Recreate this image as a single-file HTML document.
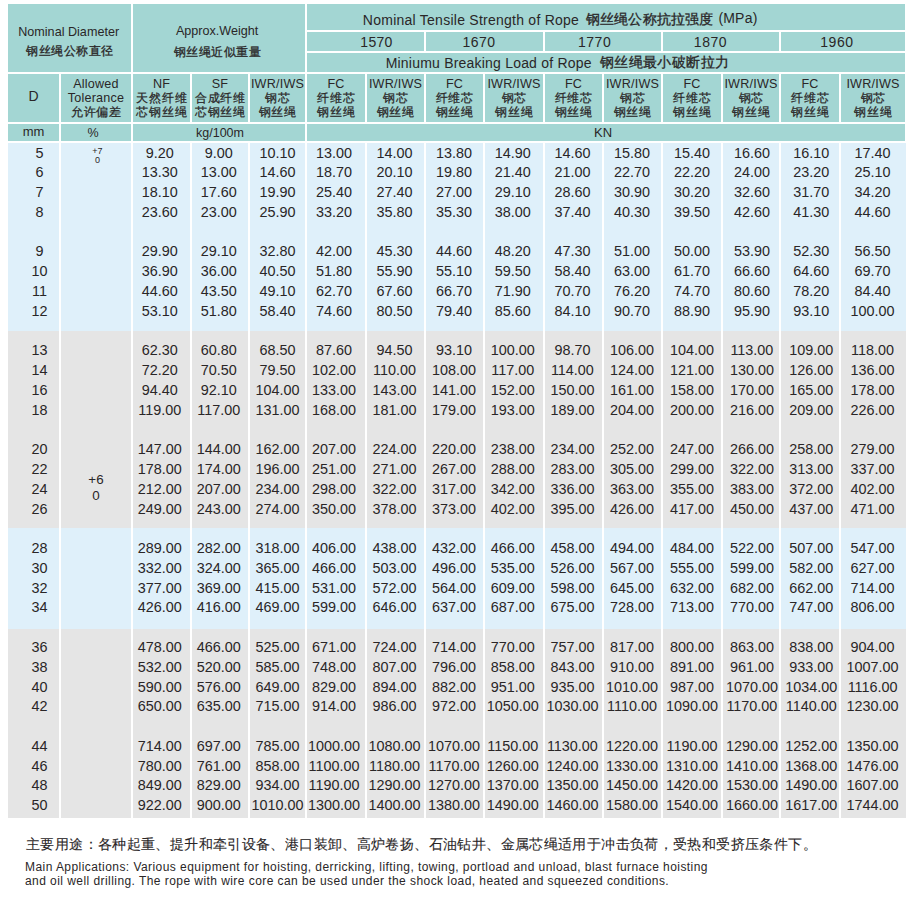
<!DOCTYPE html>
<html><head><meta charset="utf-8">
<style>
html,body{margin:0;padding:0;background:#fff;}
body{width:916px;height:905px;position:relative;overflow:hidden;font-family:"Liberation Sans",sans-serif;color:#2a2627;}
.c{position:absolute;}
.t{position:absolute;white-space:nowrap;line-height:18px;}
.k{-webkit-text-stroke:0.2px currentColor;}
.d{position:absolute;height:20px;line-height:20px;text-align:center;font-size:14.4px;white-space:nowrap;}
.h{position:absolute;text-align:center;white-space:nowrap;}
</style></head><body>
<div class="c" style="left:8px;top:4px;width:123px;height:68px;background:#a3d6d3"></div>
<div class="c" style="left:133px;top:4px;width:172px;height:68px;background:#a3d6d3"></div>
<div class="c" style="left:307px;top:4px;width:598px;height:26px;background:#a3d6d3"></div>
<div class="c" style="left:307px;top:32px;width:117px;height:19px;background:#a3d6d3"></div>
<div class="c" style="left:426px;top:32px;width:117px;height:19px;background:#a3d6d3"></div>
<div class="c" style="left:545px;top:32px;width:116px;height:19px;background:#a3d6d3"></div>
<div class="c" style="left:663px;top:32px;width:116px;height:19px;background:#a3d6d3"></div>
<div class="c" style="left:781px;top:32px;width:124px;height:19px;background:#a3d6d3"></div>
<div class="c" style="left:307px;top:53px;width:598px;height:19px;background:#a3d6d3"></div>
<div class="c" style="left:8px;top:74px;width:51px;height:48px;background:#a3d6d3"></div>
<div class="c" style="left:61px;top:74px;width:70px;height:48px;background:#a3d6d3"></div>
<div class="c" style="left:133px;top:74px;width:57px;height:48px;background:#a3d6d3"></div>
<div class="c" style="left:192px;top:74px;width:56px;height:48px;background:#a3d6d3"></div>
<div class="c" style="left:250px;top:74px;width:55px;height:48px;background:#a3d6d3"></div>
<div class="c" style="left:307px;top:74px;width:58px;height:48px;background:#a3d6d3"></div>
<div class="c" style="left:367px;top:74px;width:57px;height:48px;background:#a3d6d3"></div>
<div class="c" style="left:426px;top:74px;width:57px;height:48px;background:#a3d6d3"></div>
<div class="c" style="left:485px;top:74px;width:58px;height:48px;background:#a3d6d3"></div>
<div class="c" style="left:545px;top:74px;width:57px;height:48px;background:#a3d6d3"></div>
<div class="c" style="left:604px;top:74px;width:57px;height:48px;background:#a3d6d3"></div>
<div class="c" style="left:663px;top:74px;width:58px;height:48px;background:#a3d6d3"></div>
<div class="c" style="left:723px;top:74px;width:56px;height:48px;background:#a3d6d3"></div>
<div class="c" style="left:781px;top:74px;width:58px;height:48px;background:#a3d6d3"></div>
<div class="c" style="left:841px;top:74px;width:64px;height:48px;background:#a3d6d3"></div>
<div class="c" style="left:8px;top:124px;width:51px;height:17px;background:#a3d6d3"></div>
<div class="c" style="left:61px;top:124px;width:70px;height:17px;background:#a3d6d3"></div>
<div class="c" style="left:133px;top:124px;width:172px;height:17px;background:#a3d6d3"></div>
<div class="c" style="left:307px;top:124px;width:598px;height:17px;background:#a3d6d3"></div>
<div class="c" style="left:8px;top:143px;width:51px;height:187.5px;background:#dff0fa"></div>
<div class="c" style="left:61px;top:143px;width:70px;height:187.5px;background:#dff0fa"></div>
<div class="c" style="left:133px;top:143px;width:57px;height:187.5px;background:#dff0fa"></div>
<div class="c" style="left:192px;top:143px;width:56px;height:187.5px;background:#dff0fa"></div>
<div class="c" style="left:250px;top:143px;width:55px;height:187.5px;background:#dff0fa"></div>
<div class="c" style="left:307px;top:143px;width:58px;height:187.5px;background:#dff0fa"></div>
<div class="c" style="left:367px;top:143px;width:57px;height:187.5px;background:#dff0fa"></div>
<div class="c" style="left:426px;top:143px;width:57px;height:187.5px;background:#dff0fa"></div>
<div class="c" style="left:485px;top:143px;width:58px;height:187.5px;background:#dff0fa"></div>
<div class="c" style="left:545px;top:143px;width:57px;height:187.5px;background:#dff0fa"></div>
<div class="c" style="left:604px;top:143px;width:57px;height:187.5px;background:#dff0fa"></div>
<div class="c" style="left:663px;top:143px;width:58px;height:187.5px;background:#dff0fa"></div>
<div class="c" style="left:723px;top:143px;width:56px;height:187.5px;background:#dff0fa"></div>
<div class="c" style="left:781px;top:143px;width:58px;height:187.5px;background:#dff0fa"></div>
<div class="c" style="left:841px;top:143px;width:65px;height:187.5px;background:#dff0fa"></div>
<div class="c" style="left:8px;top:330.5px;width:51px;height:197.0px;background:#e5e5e5"></div>
<div class="c" style="left:61px;top:330.5px;width:70px;height:197.0px;background:#e5e5e5"></div>
<div class="c" style="left:133px;top:330.5px;width:57px;height:197.0px;background:#e5e5e5"></div>
<div class="c" style="left:192px;top:330.5px;width:56px;height:197.0px;background:#e5e5e5"></div>
<div class="c" style="left:250px;top:330.5px;width:55px;height:197.0px;background:#e5e5e5"></div>
<div class="c" style="left:307px;top:330.5px;width:58px;height:197.0px;background:#e5e5e5"></div>
<div class="c" style="left:367px;top:330.5px;width:57px;height:197.0px;background:#e5e5e5"></div>
<div class="c" style="left:426px;top:330.5px;width:57px;height:197.0px;background:#e5e5e5"></div>
<div class="c" style="left:485px;top:330.5px;width:58px;height:197.0px;background:#e5e5e5"></div>
<div class="c" style="left:545px;top:330.5px;width:57px;height:197.0px;background:#e5e5e5"></div>
<div class="c" style="left:604px;top:330.5px;width:57px;height:197.0px;background:#e5e5e5"></div>
<div class="c" style="left:663px;top:330.5px;width:58px;height:197.0px;background:#e5e5e5"></div>
<div class="c" style="left:723px;top:330.5px;width:56px;height:197.0px;background:#e5e5e5"></div>
<div class="c" style="left:781px;top:330.5px;width:58px;height:197.0px;background:#e5e5e5"></div>
<div class="c" style="left:841px;top:330.5px;width:65px;height:197.0px;background:#e5e5e5"></div>
<div class="c" style="left:8px;top:527.5px;width:51px;height:101.5px;background:#dff0fa"></div>
<div class="c" style="left:61px;top:527.5px;width:70px;height:101.5px;background:#dff0fa"></div>
<div class="c" style="left:133px;top:527.5px;width:57px;height:101.5px;background:#dff0fa"></div>
<div class="c" style="left:192px;top:527.5px;width:56px;height:101.5px;background:#dff0fa"></div>
<div class="c" style="left:250px;top:527.5px;width:55px;height:101.5px;background:#dff0fa"></div>
<div class="c" style="left:307px;top:527.5px;width:58px;height:101.5px;background:#dff0fa"></div>
<div class="c" style="left:367px;top:527.5px;width:57px;height:101.5px;background:#dff0fa"></div>
<div class="c" style="left:426px;top:527.5px;width:57px;height:101.5px;background:#dff0fa"></div>
<div class="c" style="left:485px;top:527.5px;width:58px;height:101.5px;background:#dff0fa"></div>
<div class="c" style="left:545px;top:527.5px;width:57px;height:101.5px;background:#dff0fa"></div>
<div class="c" style="left:604px;top:527.5px;width:57px;height:101.5px;background:#dff0fa"></div>
<div class="c" style="left:663px;top:527.5px;width:58px;height:101.5px;background:#dff0fa"></div>
<div class="c" style="left:723px;top:527.5px;width:56px;height:101.5px;background:#dff0fa"></div>
<div class="c" style="left:781px;top:527.5px;width:58px;height:101.5px;background:#dff0fa"></div>
<div class="c" style="left:841px;top:527.5px;width:65px;height:101.5px;background:#dff0fa"></div>
<div class="c" style="left:8px;top:629px;width:51px;height:189px;background:#e5e5e5"></div>
<div class="c" style="left:61px;top:629px;width:70px;height:189px;background:#e5e5e5"></div>
<div class="c" style="left:133px;top:629px;width:57px;height:189px;background:#e5e5e5"></div>
<div class="c" style="left:192px;top:629px;width:56px;height:189px;background:#e5e5e5"></div>
<div class="c" style="left:250px;top:629px;width:55px;height:189px;background:#e5e5e5"></div>
<div class="c" style="left:307px;top:629px;width:58px;height:189px;background:#e5e5e5"></div>
<div class="c" style="left:367px;top:629px;width:57px;height:189px;background:#e5e5e5"></div>
<div class="c" style="left:426px;top:629px;width:57px;height:189px;background:#e5e5e5"></div>
<div class="c" style="left:485px;top:629px;width:58px;height:189px;background:#e5e5e5"></div>
<div class="c" style="left:545px;top:629px;width:57px;height:189px;background:#e5e5e5"></div>
<div class="c" style="left:604px;top:629px;width:57px;height:189px;background:#e5e5e5"></div>
<div class="c" style="left:663px;top:629px;width:58px;height:189px;background:#e5e5e5"></div>
<div class="c" style="left:723px;top:629px;width:56px;height:189px;background:#e5e5e5"></div>
<div class="c" style="left:781px;top:629px;width:58px;height:189px;background:#e5e5e5"></div>
<div class="c" style="left:841px;top:629px;width:65px;height:189px;background:#e5e5e5"></div>
<div class="t" style="left:18.20px;top:22.50px;font-size:12.60px;letter-spacing:0.010px;">Nominal Diameter</div>
<div class="t" style="left:26.00px;top:42.40px;font-size:12.00px;letter-spacing:0.583px;-webkit-text-stroke:0.3px currentColor;">钢丝绳公称直径</div>
<div class="t" style="left:175.90px;top:22.20px;font-size:12.60px;letter-spacing:0.008px;">Approx.Weight</div>
<div class="t" style="left:173.50px;top:43.30px;font-size:12.00px;letter-spacing:0.550px;-webkit-text-stroke:0.3px currentColor;">钢丝绳近似重量</div>
<div class="t" style="left:362.85px;top:10.60px;font-size:14.00px;letter-spacing:0.250px;">Nominal Tensile Strength of Rope</div>
<div class="t" style="left:585.70px;top:10.30px;font-size:14.00px;letter-spacing:0.212px;-webkit-text-stroke:0.3px currentColor;">钢丝绳公称抗拉强度</div>
<div class="t" style="left:718.40px;top:9.20px;font-size:14.00px;letter-spacing:0.200px;">(MPa)</div>
<div class="t" style="left:360.30px;top:32.70px;font-size:14.00px;letter-spacing:0.300px;">1570</div>
<div class="t" style="left:462.60px;top:32.70px;font-size:14.00px;letter-spacing:0.433px;">1670</div>
<div class="t" style="left:577.90px;top:32.70px;font-size:14.00px;letter-spacing:0.567px;">1770</div>
<div class="t" style="left:693.80px;top:32.70px;font-size:14.00px;letter-spacing:0.567px;">1870</div>
<div class="t" style="left:820.20px;top:32.70px;font-size:14.00px;letter-spacing:0.600px;">1960</div>
<div class="t" style="left:385.70px;top:53.50px;font-size:14.00px;letter-spacing:0.207px;">Miniumu Breaking Load of Rope</div>
<div class="t" style="left:599.90px;top:52.70px;font-size:14.00px;letter-spacing:0.388px;-webkit-text-stroke:0.3px currentColor;">钢丝绳最小破断拉力</div>
<div class="h" style="left:61px;top:77.0px;width:70px;font-size:12.6px;line-height:14.3px"><span style="letter-spacing:0.2px">Allowed</span><br><span style="letter-spacing:0.2px">Tolerance</span><br><span class="k" style="-webkit-text-stroke:0.25px currentColor;font-size:11.5px;letter-spacing:0.9px;padding-left:0.9px;position:relative;top:-0.8px">允许偏差</span></div>
<div class="h" style="left:133px;top:77.0px;width:57px;font-size:12.6px;line-height:14.3px"><span style="letter-spacing:0.2px">NF</span><br><span class="k" style="-webkit-text-stroke:0.25px currentColor;font-size:11.5px;letter-spacing:0.9px;padding-left:0.9px;position:relative;top:-0.8px">天然纤维</span><br><span class="k" style="-webkit-text-stroke:0.25px currentColor;font-size:11.5px;letter-spacing:0.9px;padding-left:0.9px;position:relative;top:-0.8px">芯钢丝绳</span></div>
<div class="h" style="left:192px;top:77.0px;width:56px;font-size:12.6px;line-height:14.3px"><span style="letter-spacing:0.2px">SF</span><br><span class="k" style="-webkit-text-stroke:0.25px currentColor;font-size:11.5px;letter-spacing:0.9px;padding-left:0.9px;position:relative;top:-0.8px">合成纤维</span><br><span class="k" style="-webkit-text-stroke:0.25px currentColor;font-size:11.5px;letter-spacing:0.9px;padding-left:0.9px;position:relative;top:-0.8px">芯钢丝绳</span></div>
<div class="h" style="left:250px;top:77.0px;width:55px;font-size:12.6px;line-height:14.3px"><span style="letter-spacing:0.2px">IWR/IWS</span><br><span class="k" style="-webkit-text-stroke:0.25px currentColor;font-size:11.5px;letter-spacing:0.9px;padding-left:0.9px;position:relative;top:-0.8px">钢芯</span><br><span class="k" style="-webkit-text-stroke:0.25px currentColor;font-size:11.5px;letter-spacing:0.9px;padding-left:0.9px;position:relative;top:-0.8px">钢丝绳</span></div>
<div class="h" style="left:307px;top:77.0px;width:58px;font-size:12.6px;line-height:14.3px"><span style="letter-spacing:0.2px">FC</span><br><span class="k" style="-webkit-text-stroke:0.25px currentColor;font-size:11.5px;letter-spacing:0.9px;padding-left:0.9px;position:relative;top:-0.8px">纤维芯</span><br><span class="k" style="-webkit-text-stroke:0.25px currentColor;font-size:11.5px;letter-spacing:0.9px;padding-left:0.9px;position:relative;top:-0.8px">钢丝绳</span></div>
<div class="h" style="left:367px;top:77.0px;width:57px;font-size:12.6px;line-height:14.3px"><span style="letter-spacing:0.2px">IWR/IWS</span><br><span class="k" style="-webkit-text-stroke:0.25px currentColor;font-size:11.5px;letter-spacing:0.9px;padding-left:0.9px;position:relative;top:-0.8px">钢芯</span><br><span class="k" style="-webkit-text-stroke:0.25px currentColor;font-size:11.5px;letter-spacing:0.9px;padding-left:0.9px;position:relative;top:-0.8px">钢丝绳</span></div>
<div class="h" style="left:426px;top:77.0px;width:57px;font-size:12.6px;line-height:14.3px"><span style="letter-spacing:0.2px">FC</span><br><span class="k" style="-webkit-text-stroke:0.25px currentColor;font-size:11.5px;letter-spacing:0.9px;padding-left:0.9px;position:relative;top:-0.8px">纤维芯</span><br><span class="k" style="-webkit-text-stroke:0.25px currentColor;font-size:11.5px;letter-spacing:0.9px;padding-left:0.9px;position:relative;top:-0.8px">钢丝绳</span></div>
<div class="h" style="left:485px;top:77.0px;width:58px;font-size:12.6px;line-height:14.3px"><span style="letter-spacing:0.2px">IWR/IWS</span><br><span class="k" style="-webkit-text-stroke:0.25px currentColor;font-size:11.5px;letter-spacing:0.9px;padding-left:0.9px;position:relative;top:-0.8px">钢芯</span><br><span class="k" style="-webkit-text-stroke:0.25px currentColor;font-size:11.5px;letter-spacing:0.9px;padding-left:0.9px;position:relative;top:-0.8px">钢丝绳</span></div>
<div class="h" style="left:545px;top:77.0px;width:57px;font-size:12.6px;line-height:14.3px"><span style="letter-spacing:0.2px">FC</span><br><span class="k" style="-webkit-text-stroke:0.25px currentColor;font-size:11.5px;letter-spacing:0.9px;padding-left:0.9px;position:relative;top:-0.8px">纤维芯</span><br><span class="k" style="-webkit-text-stroke:0.25px currentColor;font-size:11.5px;letter-spacing:0.9px;padding-left:0.9px;position:relative;top:-0.8px">钢丝绳</span></div>
<div class="h" style="left:604px;top:77.0px;width:57px;font-size:12.6px;line-height:14.3px"><span style="letter-spacing:0.2px">IWR/IWS</span><br><span class="k" style="-webkit-text-stroke:0.25px currentColor;font-size:11.5px;letter-spacing:0.9px;padding-left:0.9px;position:relative;top:-0.8px">钢芯</span><br><span class="k" style="-webkit-text-stroke:0.25px currentColor;font-size:11.5px;letter-spacing:0.9px;padding-left:0.9px;position:relative;top:-0.8px">钢丝绳</span></div>
<div class="h" style="left:663px;top:77.0px;width:58px;font-size:12.6px;line-height:14.3px"><span style="letter-spacing:0.2px">FC</span><br><span class="k" style="-webkit-text-stroke:0.25px currentColor;font-size:11.5px;letter-spacing:0.9px;padding-left:0.9px;position:relative;top:-0.8px">纤维芯</span><br><span class="k" style="-webkit-text-stroke:0.25px currentColor;font-size:11.5px;letter-spacing:0.9px;padding-left:0.9px;position:relative;top:-0.8px">钢丝绳</span></div>
<div class="h" style="left:723px;top:77.0px;width:56px;font-size:12.6px;line-height:14.3px"><span style="letter-spacing:0.2px">IWR/IWS</span><br><span class="k" style="-webkit-text-stroke:0.25px currentColor;font-size:11.5px;letter-spacing:0.9px;padding-left:0.9px;position:relative;top:-0.8px">钢芯</span><br><span class="k" style="-webkit-text-stroke:0.25px currentColor;font-size:11.5px;letter-spacing:0.9px;padding-left:0.9px;position:relative;top:-0.8px">钢丝绳</span></div>
<div class="h" style="left:781px;top:77.0px;width:58px;font-size:12.6px;line-height:14.3px"><span style="letter-spacing:0.2px">FC</span><br><span class="k" style="-webkit-text-stroke:0.25px currentColor;font-size:11.5px;letter-spacing:0.9px;padding-left:0.9px;position:relative;top:-0.8px">纤维芯</span><br><span class="k" style="-webkit-text-stroke:0.25px currentColor;font-size:11.5px;letter-spacing:0.9px;padding-left:0.9px;position:relative;top:-0.8px">钢丝绳</span></div>
<div class="h" style="left:841px;top:77.0px;width:64px;font-size:12.6px;line-height:14.3px"><span style="letter-spacing:0.2px">IWR/IWS</span><br><span class="k" style="-webkit-text-stroke:0.25px currentColor;font-size:11.5px;letter-spacing:0.9px;padding-left:0.9px;position:relative;top:-0.8px">钢芯</span><br><span class="k" style="-webkit-text-stroke:0.25px currentColor;font-size:11.5px;letter-spacing:0.9px;padding-left:0.9px;position:relative;top:-0.8px">钢丝绳</span></div>
<div class="h" style="left:8px;top:86.7px;width:51px;font-size:14px;line-height:18px">D</div>
<div class="h" style="left:8px;top:124px;width:51px;font-size:13px;line-height:16px">mm</div>
<div class="t" style="left:87.5px;top:124.5px;font-size:12.5px;line-height:16px">%</div>
<div class="t" style="left:196px;top:124.5px;font-size:12.5px;line-height:16px">kg/100m</div>
<div class="t" style="left:594px;top:125px;font-size:13px;line-height:16px">KN</div>
<div class="h" style="left:61px;top:147px;width:70px;font-size:9px;line-height:9.1px;padding-left:1.5px">+7<br>0</div>
<div class="h" style="left:61px;top:472px;width:70px;font-size:13.4px;line-height:16.1px">+6<br>0</div>
<div class="d" style="left:14px;top:142.50px;width:51px">5</div>
<div class="d" style="left:131.2px;top:142.50px;width:57px">9.20</div>
<div class="d" style="left:190.7px;top:142.50px;width:56px">9.00</div>
<div class="d" style="left:249.9px;top:142.50px;width:55px">10.10</div>
<div class="d" style="left:305.1px;top:142.50px;width:58px">13.00</div>
<div class="d" style="left:366.1px;top:142.50px;width:57px">14.00</div>
<div class="d" style="left:425.5px;top:142.50px;width:57px">13.80</div>
<div class="d" style="left:483.8px;top:142.50px;width:58px">14.90</div>
<div class="d" style="left:543.9px;top:142.50px;width:57px">14.60</div>
<div class="d" style="left:603.55px;top:142.50px;width:57px">15.80</div>
<div class="d" style="left:663px;top:142.50px;width:58px">15.40</div>
<div class="d" style="left:723.9px;top:142.50px;width:56px">16.60</div>
<div class="d" style="left:782.3px;top:142.50px;width:58px">16.10</div>
<div class="d" style="left:840.6px;top:142.50px;width:64px">17.40</div>
<div class="d" style="left:14px;top:162.28px;width:51px">6</div>
<div class="d" style="left:131.2px;top:162.28px;width:57px">13.30</div>
<div class="d" style="left:190.7px;top:162.28px;width:56px">13.00</div>
<div class="d" style="left:249.9px;top:162.28px;width:55px">14.60</div>
<div class="d" style="left:305.1px;top:162.28px;width:58px">18.70</div>
<div class="d" style="left:366.1px;top:162.28px;width:57px">20.10</div>
<div class="d" style="left:425.5px;top:162.28px;width:57px">19.80</div>
<div class="d" style="left:483.8px;top:162.28px;width:58px">21.40</div>
<div class="d" style="left:543.9px;top:162.28px;width:57px">21.00</div>
<div class="d" style="left:603.55px;top:162.28px;width:57px">22.70</div>
<div class="d" style="left:663px;top:162.28px;width:58px">22.20</div>
<div class="d" style="left:723.9px;top:162.28px;width:56px">24.00</div>
<div class="d" style="left:782.3px;top:162.28px;width:58px">23.20</div>
<div class="d" style="left:840.6px;top:162.28px;width:64px">25.10</div>
<div class="d" style="left:14px;top:182.06px;width:51px">7</div>
<div class="d" style="left:131.2px;top:182.06px;width:57px">18.10</div>
<div class="d" style="left:190.7px;top:182.06px;width:56px">17.60</div>
<div class="d" style="left:249.9px;top:182.06px;width:55px">19.90</div>
<div class="d" style="left:305.1px;top:182.06px;width:58px">25.40</div>
<div class="d" style="left:366.1px;top:182.06px;width:57px">27.40</div>
<div class="d" style="left:425.5px;top:182.06px;width:57px">27.00</div>
<div class="d" style="left:483.8px;top:182.06px;width:58px">29.10</div>
<div class="d" style="left:543.9px;top:182.06px;width:57px">28.60</div>
<div class="d" style="left:603.55px;top:182.06px;width:57px">30.90</div>
<div class="d" style="left:663px;top:182.06px;width:58px">30.20</div>
<div class="d" style="left:723.9px;top:182.06px;width:56px">32.60</div>
<div class="d" style="left:782.3px;top:182.06px;width:58px">31.70</div>
<div class="d" style="left:840.6px;top:182.06px;width:64px">34.20</div>
<div class="d" style="left:14px;top:201.84px;width:51px">8</div>
<div class="d" style="left:131.2px;top:201.84px;width:57px">23.60</div>
<div class="d" style="left:190.7px;top:201.84px;width:56px">23.00</div>
<div class="d" style="left:249.9px;top:201.84px;width:55px">25.90</div>
<div class="d" style="left:305.1px;top:201.84px;width:58px">33.20</div>
<div class="d" style="left:366.1px;top:201.84px;width:57px">35.80</div>
<div class="d" style="left:425.5px;top:201.84px;width:57px">35.30</div>
<div class="d" style="left:483.8px;top:201.84px;width:58px">38.00</div>
<div class="d" style="left:543.9px;top:201.84px;width:57px">37.40</div>
<div class="d" style="left:603.55px;top:201.84px;width:57px">40.30</div>
<div class="d" style="left:663px;top:201.84px;width:58px">39.50</div>
<div class="d" style="left:723.9px;top:201.84px;width:56px">42.60</div>
<div class="d" style="left:782.3px;top:201.84px;width:58px">41.30</div>
<div class="d" style="left:840.6px;top:201.84px;width:64px">44.60</div>
<div class="d" style="left:14px;top:241.40px;width:51px">9</div>
<div class="d" style="left:131.2px;top:241.40px;width:57px">29.90</div>
<div class="d" style="left:190.7px;top:241.40px;width:56px">29.10</div>
<div class="d" style="left:249.9px;top:241.40px;width:55px">32.80</div>
<div class="d" style="left:305.1px;top:241.40px;width:58px">42.00</div>
<div class="d" style="left:366.1px;top:241.40px;width:57px">45.30</div>
<div class="d" style="left:425.5px;top:241.40px;width:57px">44.60</div>
<div class="d" style="left:483.8px;top:241.40px;width:58px">48.20</div>
<div class="d" style="left:543.9px;top:241.40px;width:57px">47.30</div>
<div class="d" style="left:603.55px;top:241.40px;width:57px">51.00</div>
<div class="d" style="left:663px;top:241.40px;width:58px">50.00</div>
<div class="d" style="left:723.9px;top:241.40px;width:56px">53.90</div>
<div class="d" style="left:782.3px;top:241.40px;width:58px">52.30</div>
<div class="d" style="left:840.6px;top:241.40px;width:64px">56.50</div>
<div class="d" style="left:14px;top:261.18px;width:51px">10</div>
<div class="d" style="left:131.2px;top:261.18px;width:57px">36.90</div>
<div class="d" style="left:190.7px;top:261.18px;width:56px">36.00</div>
<div class="d" style="left:249.9px;top:261.18px;width:55px">40.50</div>
<div class="d" style="left:305.1px;top:261.18px;width:58px">51.80</div>
<div class="d" style="left:366.1px;top:261.18px;width:57px">55.90</div>
<div class="d" style="left:425.5px;top:261.18px;width:57px">55.10</div>
<div class="d" style="left:483.8px;top:261.18px;width:58px">59.50</div>
<div class="d" style="left:543.9px;top:261.18px;width:57px">58.40</div>
<div class="d" style="left:603.55px;top:261.18px;width:57px">63.00</div>
<div class="d" style="left:663px;top:261.18px;width:58px">61.70</div>
<div class="d" style="left:723.9px;top:261.18px;width:56px">66.60</div>
<div class="d" style="left:782.3px;top:261.18px;width:58px">64.60</div>
<div class="d" style="left:840.6px;top:261.18px;width:64px">69.70</div>
<div class="d" style="left:14px;top:280.96px;width:51px">11</div>
<div class="d" style="left:131.2px;top:280.96px;width:57px">44.60</div>
<div class="d" style="left:190.7px;top:280.96px;width:56px">43.50</div>
<div class="d" style="left:249.9px;top:280.96px;width:55px">49.10</div>
<div class="d" style="left:305.1px;top:280.96px;width:58px">62.70</div>
<div class="d" style="left:366.1px;top:280.96px;width:57px">67.60</div>
<div class="d" style="left:425.5px;top:280.96px;width:57px">66.70</div>
<div class="d" style="left:483.8px;top:280.96px;width:58px">71.90</div>
<div class="d" style="left:543.9px;top:280.96px;width:57px">70.70</div>
<div class="d" style="left:603.55px;top:280.96px;width:57px">76.20</div>
<div class="d" style="left:663px;top:280.96px;width:58px">74.70</div>
<div class="d" style="left:723.9px;top:280.96px;width:56px">80.60</div>
<div class="d" style="left:782.3px;top:280.96px;width:58px">78.20</div>
<div class="d" style="left:840.6px;top:280.96px;width:64px">84.40</div>
<div class="d" style="left:14px;top:300.74px;width:51px">12</div>
<div class="d" style="left:131.2px;top:300.74px;width:57px">53.10</div>
<div class="d" style="left:190.7px;top:300.74px;width:56px">51.80</div>
<div class="d" style="left:249.9px;top:300.74px;width:55px">58.40</div>
<div class="d" style="left:305.1px;top:300.74px;width:58px">74.60</div>
<div class="d" style="left:366.1px;top:300.74px;width:57px">80.50</div>
<div class="d" style="left:425.5px;top:300.74px;width:57px">79.40</div>
<div class="d" style="left:483.8px;top:300.74px;width:58px">85.60</div>
<div class="d" style="left:543.9px;top:300.74px;width:57px">84.10</div>
<div class="d" style="left:603.55px;top:300.74px;width:57px">90.70</div>
<div class="d" style="left:663px;top:300.74px;width:58px">88.90</div>
<div class="d" style="left:723.9px;top:300.74px;width:56px">95.90</div>
<div class="d" style="left:782.3px;top:300.74px;width:58px">93.10</div>
<div class="d" style="left:840.6px;top:300.74px;width:64px">100.00</div>
<div class="d" style="left:14px;top:340.30px;width:51px">13</div>
<div class="d" style="left:131.2px;top:340.30px;width:57px">62.30</div>
<div class="d" style="left:190.7px;top:340.30px;width:56px">60.80</div>
<div class="d" style="left:249.9px;top:340.30px;width:55px">68.50</div>
<div class="d" style="left:305.1px;top:340.30px;width:58px">87.60</div>
<div class="d" style="left:366.1px;top:340.30px;width:57px">94.50</div>
<div class="d" style="left:425.5px;top:340.30px;width:57px">93.10</div>
<div class="d" style="left:483.8px;top:340.30px;width:58px">100.00</div>
<div class="d" style="left:543.9px;top:340.30px;width:57px">98.70</div>
<div class="d" style="left:603.55px;top:340.30px;width:57px">106.00</div>
<div class="d" style="left:663px;top:340.30px;width:58px">104.00</div>
<div class="d" style="left:723.9px;top:340.30px;width:56px">113.00</div>
<div class="d" style="left:782.3px;top:340.30px;width:58px">109.00</div>
<div class="d" style="left:840.6px;top:340.30px;width:64px">118.00</div>
<div class="d" style="left:14px;top:360.08px;width:51px">14</div>
<div class="d" style="left:131.2px;top:360.08px;width:57px">72.20</div>
<div class="d" style="left:190.7px;top:360.08px;width:56px">70.50</div>
<div class="d" style="left:249.9px;top:360.08px;width:55px">79.50</div>
<div class="d" style="left:305.1px;top:360.08px;width:58px">102.00</div>
<div class="d" style="left:366.1px;top:360.08px;width:57px">110.00</div>
<div class="d" style="left:425.5px;top:360.08px;width:57px">108.00</div>
<div class="d" style="left:483.8px;top:360.08px;width:58px">117.00</div>
<div class="d" style="left:543.9px;top:360.08px;width:57px">114.00</div>
<div class="d" style="left:603.55px;top:360.08px;width:57px">124.00</div>
<div class="d" style="left:663px;top:360.08px;width:58px">121.00</div>
<div class="d" style="left:723.9px;top:360.08px;width:56px">130.00</div>
<div class="d" style="left:782.3px;top:360.08px;width:58px">126.00</div>
<div class="d" style="left:840.6px;top:360.08px;width:64px">136.00</div>
<div class="d" style="left:14px;top:379.86px;width:51px">16</div>
<div class="d" style="left:131.2px;top:379.86px;width:57px">94.40</div>
<div class="d" style="left:190.7px;top:379.86px;width:56px">92.10</div>
<div class="d" style="left:249.9px;top:379.86px;width:55px">104.00</div>
<div class="d" style="left:305.1px;top:379.86px;width:58px">133.00</div>
<div class="d" style="left:366.1px;top:379.86px;width:57px">143.00</div>
<div class="d" style="left:425.5px;top:379.86px;width:57px">141.00</div>
<div class="d" style="left:483.8px;top:379.86px;width:58px">152.00</div>
<div class="d" style="left:543.9px;top:379.86px;width:57px">150.00</div>
<div class="d" style="left:603.55px;top:379.86px;width:57px">161.00</div>
<div class="d" style="left:663px;top:379.86px;width:58px">158.00</div>
<div class="d" style="left:723.9px;top:379.86px;width:56px">170.00</div>
<div class="d" style="left:782.3px;top:379.86px;width:58px">165.00</div>
<div class="d" style="left:840.6px;top:379.86px;width:64px">178.00</div>
<div class="d" style="left:14px;top:399.64px;width:51px">18</div>
<div class="d" style="left:131.2px;top:399.64px;width:57px">119.00</div>
<div class="d" style="left:190.7px;top:399.64px;width:56px">117.00</div>
<div class="d" style="left:249.9px;top:399.64px;width:55px">131.00</div>
<div class="d" style="left:305.1px;top:399.64px;width:58px">168.00</div>
<div class="d" style="left:366.1px;top:399.64px;width:57px">181.00</div>
<div class="d" style="left:425.5px;top:399.64px;width:57px">179.00</div>
<div class="d" style="left:483.8px;top:399.64px;width:58px">193.00</div>
<div class="d" style="left:543.9px;top:399.64px;width:57px">189.00</div>
<div class="d" style="left:603.55px;top:399.64px;width:57px">204.00</div>
<div class="d" style="left:663px;top:399.64px;width:58px">200.00</div>
<div class="d" style="left:723.9px;top:399.64px;width:56px">216.00</div>
<div class="d" style="left:782.3px;top:399.64px;width:58px">209.00</div>
<div class="d" style="left:840.6px;top:399.64px;width:64px">226.00</div>
<div class="d" style="left:14px;top:439.20px;width:51px">20</div>
<div class="d" style="left:131.2px;top:439.20px;width:57px">147.00</div>
<div class="d" style="left:190.7px;top:439.20px;width:56px">144.00</div>
<div class="d" style="left:249.9px;top:439.20px;width:55px">162.00</div>
<div class="d" style="left:305.1px;top:439.20px;width:58px">207.00</div>
<div class="d" style="left:366.1px;top:439.20px;width:57px">224.00</div>
<div class="d" style="left:425.5px;top:439.20px;width:57px">220.00</div>
<div class="d" style="left:483.8px;top:439.20px;width:58px">238.00</div>
<div class="d" style="left:543.9px;top:439.20px;width:57px">234.00</div>
<div class="d" style="left:603.55px;top:439.20px;width:57px">252.00</div>
<div class="d" style="left:663px;top:439.20px;width:58px">247.00</div>
<div class="d" style="left:723.9px;top:439.20px;width:56px">266.00</div>
<div class="d" style="left:782.3px;top:439.20px;width:58px">258.00</div>
<div class="d" style="left:840.6px;top:439.20px;width:64px">279.00</div>
<div class="d" style="left:14px;top:458.98px;width:51px">22</div>
<div class="d" style="left:131.2px;top:458.98px;width:57px">178.00</div>
<div class="d" style="left:190.7px;top:458.98px;width:56px">174.00</div>
<div class="d" style="left:249.9px;top:458.98px;width:55px">196.00</div>
<div class="d" style="left:305.1px;top:458.98px;width:58px">251.00</div>
<div class="d" style="left:366.1px;top:458.98px;width:57px">271.00</div>
<div class="d" style="left:425.5px;top:458.98px;width:57px">267.00</div>
<div class="d" style="left:483.8px;top:458.98px;width:58px">288.00</div>
<div class="d" style="left:543.9px;top:458.98px;width:57px">283.00</div>
<div class="d" style="left:603.55px;top:458.98px;width:57px">305.00</div>
<div class="d" style="left:663px;top:458.98px;width:58px">299.00</div>
<div class="d" style="left:723.9px;top:458.98px;width:56px">322.00</div>
<div class="d" style="left:782.3px;top:458.98px;width:58px">313.00</div>
<div class="d" style="left:840.6px;top:458.98px;width:64px">337.00</div>
<div class="d" style="left:14px;top:478.76px;width:51px">24</div>
<div class="d" style="left:131.2px;top:478.76px;width:57px">212.00</div>
<div class="d" style="left:190.7px;top:478.76px;width:56px">207.00</div>
<div class="d" style="left:249.9px;top:478.76px;width:55px">234.00</div>
<div class="d" style="left:305.1px;top:478.76px;width:58px">298.00</div>
<div class="d" style="left:366.1px;top:478.76px;width:57px">322.00</div>
<div class="d" style="left:425.5px;top:478.76px;width:57px">317.00</div>
<div class="d" style="left:483.8px;top:478.76px;width:58px">342.00</div>
<div class="d" style="left:543.9px;top:478.76px;width:57px">336.00</div>
<div class="d" style="left:603.55px;top:478.76px;width:57px">363.00</div>
<div class="d" style="left:663px;top:478.76px;width:58px">355.00</div>
<div class="d" style="left:723.9px;top:478.76px;width:56px">383.00</div>
<div class="d" style="left:782.3px;top:478.76px;width:58px">372.00</div>
<div class="d" style="left:840.6px;top:478.76px;width:64px">402.00</div>
<div class="d" style="left:14px;top:498.54px;width:51px">26</div>
<div class="d" style="left:131.2px;top:498.54px;width:57px">249.00</div>
<div class="d" style="left:190.7px;top:498.54px;width:56px">243.00</div>
<div class="d" style="left:249.9px;top:498.54px;width:55px">274.00</div>
<div class="d" style="left:305.1px;top:498.54px;width:58px">350.00</div>
<div class="d" style="left:366.1px;top:498.54px;width:57px">378.00</div>
<div class="d" style="left:425.5px;top:498.54px;width:57px">373.00</div>
<div class="d" style="left:483.8px;top:498.54px;width:58px">402.00</div>
<div class="d" style="left:543.9px;top:498.54px;width:57px">395.00</div>
<div class="d" style="left:603.55px;top:498.54px;width:57px">426.00</div>
<div class="d" style="left:663px;top:498.54px;width:58px">417.00</div>
<div class="d" style="left:723.9px;top:498.54px;width:56px">450.00</div>
<div class="d" style="left:782.3px;top:498.54px;width:58px">437.00</div>
<div class="d" style="left:840.6px;top:498.54px;width:64px">471.00</div>
<div class="d" style="left:14px;top:538.10px;width:51px">28</div>
<div class="d" style="left:131.2px;top:538.10px;width:57px">289.00</div>
<div class="d" style="left:190.7px;top:538.10px;width:56px">282.00</div>
<div class="d" style="left:249.9px;top:538.10px;width:55px">318.00</div>
<div class="d" style="left:305.1px;top:538.10px;width:58px">406.00</div>
<div class="d" style="left:366.1px;top:538.10px;width:57px">438.00</div>
<div class="d" style="left:425.5px;top:538.10px;width:57px">432.00</div>
<div class="d" style="left:483.8px;top:538.10px;width:58px">466.00</div>
<div class="d" style="left:543.9px;top:538.10px;width:57px">458.00</div>
<div class="d" style="left:603.55px;top:538.10px;width:57px">494.00</div>
<div class="d" style="left:663px;top:538.10px;width:58px">484.00</div>
<div class="d" style="left:723.9px;top:538.10px;width:56px">522.00</div>
<div class="d" style="left:782.3px;top:538.10px;width:58px">507.00</div>
<div class="d" style="left:840.6px;top:538.10px;width:64px">547.00</div>
<div class="d" style="left:14px;top:557.88px;width:51px">30</div>
<div class="d" style="left:131.2px;top:557.88px;width:57px">332.00</div>
<div class="d" style="left:190.7px;top:557.88px;width:56px">324.00</div>
<div class="d" style="left:249.9px;top:557.88px;width:55px">365.00</div>
<div class="d" style="left:305.1px;top:557.88px;width:58px">466.00</div>
<div class="d" style="left:366.1px;top:557.88px;width:57px">503.00</div>
<div class="d" style="left:425.5px;top:557.88px;width:57px">496.00</div>
<div class="d" style="left:483.8px;top:557.88px;width:58px">535.00</div>
<div class="d" style="left:543.9px;top:557.88px;width:57px">526.00</div>
<div class="d" style="left:603.55px;top:557.88px;width:57px">567.00</div>
<div class="d" style="left:663px;top:557.88px;width:58px">555.00</div>
<div class="d" style="left:723.9px;top:557.88px;width:56px">599.00</div>
<div class="d" style="left:782.3px;top:557.88px;width:58px">582.00</div>
<div class="d" style="left:840.6px;top:557.88px;width:64px">627.00</div>
<div class="d" style="left:14px;top:577.66px;width:51px">32</div>
<div class="d" style="left:131.2px;top:577.66px;width:57px">377.00</div>
<div class="d" style="left:190.7px;top:577.66px;width:56px">369.00</div>
<div class="d" style="left:249.9px;top:577.66px;width:55px">415.00</div>
<div class="d" style="left:305.1px;top:577.66px;width:58px">531.00</div>
<div class="d" style="left:366.1px;top:577.66px;width:57px">572.00</div>
<div class="d" style="left:425.5px;top:577.66px;width:57px">564.00</div>
<div class="d" style="left:483.8px;top:577.66px;width:58px">609.00</div>
<div class="d" style="left:543.9px;top:577.66px;width:57px">598.00</div>
<div class="d" style="left:603.55px;top:577.66px;width:57px">645.00</div>
<div class="d" style="left:663px;top:577.66px;width:58px">632.00</div>
<div class="d" style="left:723.9px;top:577.66px;width:56px">682.00</div>
<div class="d" style="left:782.3px;top:577.66px;width:58px">662.00</div>
<div class="d" style="left:840.6px;top:577.66px;width:64px">714.00</div>
<div class="d" style="left:14px;top:597.44px;width:51px">34</div>
<div class="d" style="left:131.2px;top:597.44px;width:57px">426.00</div>
<div class="d" style="left:190.7px;top:597.44px;width:56px">416.00</div>
<div class="d" style="left:249.9px;top:597.44px;width:55px">469.00</div>
<div class="d" style="left:305.1px;top:597.44px;width:58px">599.00</div>
<div class="d" style="left:366.1px;top:597.44px;width:57px">646.00</div>
<div class="d" style="left:425.5px;top:597.44px;width:57px">637.00</div>
<div class="d" style="left:483.8px;top:597.44px;width:58px">687.00</div>
<div class="d" style="left:543.9px;top:597.44px;width:57px">675.00</div>
<div class="d" style="left:603.55px;top:597.44px;width:57px">728.00</div>
<div class="d" style="left:663px;top:597.44px;width:58px">713.00</div>
<div class="d" style="left:723.9px;top:597.44px;width:56px">770.00</div>
<div class="d" style="left:782.3px;top:597.44px;width:58px">747.00</div>
<div class="d" style="left:840.6px;top:597.44px;width:64px">806.00</div>
<div class="d" style="left:14px;top:637.00px;width:51px">36</div>
<div class="d" style="left:131.2px;top:637.00px;width:57px">478.00</div>
<div class="d" style="left:190.7px;top:637.00px;width:56px">466.00</div>
<div class="d" style="left:249.9px;top:637.00px;width:55px">525.00</div>
<div class="d" style="left:305.1px;top:637.00px;width:58px">671.00</div>
<div class="d" style="left:366.1px;top:637.00px;width:57px">724.00</div>
<div class="d" style="left:425.5px;top:637.00px;width:57px">714.00</div>
<div class="d" style="left:483.8px;top:637.00px;width:58px">770.00</div>
<div class="d" style="left:543.9px;top:637.00px;width:57px">757.00</div>
<div class="d" style="left:603.55px;top:637.00px;width:57px">817.00</div>
<div class="d" style="left:663px;top:637.00px;width:58px">800.00</div>
<div class="d" style="left:723.9px;top:637.00px;width:56px">863.00</div>
<div class="d" style="left:782.3px;top:637.00px;width:58px">838.00</div>
<div class="d" style="left:840.6px;top:637.00px;width:64px">904.00</div>
<div class="d" style="left:14px;top:656.78px;width:51px">38</div>
<div class="d" style="left:131.2px;top:656.78px;width:57px">532.00</div>
<div class="d" style="left:190.7px;top:656.78px;width:56px">520.00</div>
<div class="d" style="left:249.9px;top:656.78px;width:55px">585.00</div>
<div class="d" style="left:305.1px;top:656.78px;width:58px">748.00</div>
<div class="d" style="left:366.1px;top:656.78px;width:57px">807.00</div>
<div class="d" style="left:425.5px;top:656.78px;width:57px">796.00</div>
<div class="d" style="left:483.8px;top:656.78px;width:58px">858.00</div>
<div class="d" style="left:543.9px;top:656.78px;width:57px">843.00</div>
<div class="d" style="left:603.55px;top:656.78px;width:57px">910.00</div>
<div class="d" style="left:663px;top:656.78px;width:58px">891.00</div>
<div class="d" style="left:723.9px;top:656.78px;width:56px">961.00</div>
<div class="d" style="left:782.3px;top:656.78px;width:58px">933.00</div>
<div class="d" style="left:840.6px;top:656.78px;width:64px">1007.00</div>
<div class="d" style="left:14px;top:676.56px;width:51px">40</div>
<div class="d" style="left:131.2px;top:676.56px;width:57px">590.00</div>
<div class="d" style="left:190.7px;top:676.56px;width:56px">576.00</div>
<div class="d" style="left:249.9px;top:676.56px;width:55px">649.00</div>
<div class="d" style="left:305.1px;top:676.56px;width:58px">829.00</div>
<div class="d" style="left:366.1px;top:676.56px;width:57px">894.00</div>
<div class="d" style="left:425.5px;top:676.56px;width:57px">882.00</div>
<div class="d" style="left:483.8px;top:676.56px;width:58px">951.00</div>
<div class="d" style="left:543.9px;top:676.56px;width:57px">935.00</div>
<div class="d" style="left:603.55px;top:676.56px;width:57px">1010.00</div>
<div class="d" style="left:663px;top:676.56px;width:58px">987.00</div>
<div class="d" style="left:723.9px;top:676.56px;width:56px">1070.00</div>
<div class="d" style="left:782.3px;top:676.56px;width:58px">1034.00</div>
<div class="d" style="left:840.6px;top:676.56px;width:64px">1116.00</div>
<div class="d" style="left:14px;top:696.34px;width:51px">42</div>
<div class="d" style="left:131.2px;top:696.34px;width:57px">650.00</div>
<div class="d" style="left:190.7px;top:696.34px;width:56px">635.00</div>
<div class="d" style="left:249.9px;top:696.34px;width:55px">715.00</div>
<div class="d" style="left:305.1px;top:696.34px;width:58px">914.00</div>
<div class="d" style="left:366.1px;top:696.34px;width:57px">986.00</div>
<div class="d" style="left:425.5px;top:696.34px;width:57px">972.00</div>
<div class="d" style="left:483.8px;top:696.34px;width:58px">1050.00</div>
<div class="d" style="left:543.9px;top:696.34px;width:57px">1030.00</div>
<div class="d" style="left:603.55px;top:696.34px;width:57px">1110.00</div>
<div class="d" style="left:663px;top:696.34px;width:58px">1090.00</div>
<div class="d" style="left:723.9px;top:696.34px;width:56px">1170.00</div>
<div class="d" style="left:782.3px;top:696.34px;width:58px">1140.00</div>
<div class="d" style="left:840.6px;top:696.34px;width:64px">1230.00</div>
<div class="d" style="left:14px;top:735.90px;width:51px">44</div>
<div class="d" style="left:131.2px;top:735.90px;width:57px">714.00</div>
<div class="d" style="left:190.7px;top:735.90px;width:56px">697.00</div>
<div class="d" style="left:249.9px;top:735.90px;width:55px">785.00</div>
<div class="d" style="left:305.1px;top:735.90px;width:58px">1000.00</div>
<div class="d" style="left:366.1px;top:735.90px;width:57px">1080.00</div>
<div class="d" style="left:425.5px;top:735.90px;width:57px">1070.00</div>
<div class="d" style="left:483.8px;top:735.90px;width:58px">1150.00</div>
<div class="d" style="left:543.9px;top:735.90px;width:57px">1130.00</div>
<div class="d" style="left:603.55px;top:735.90px;width:57px">1220.00</div>
<div class="d" style="left:663px;top:735.90px;width:58px">1190.00</div>
<div class="d" style="left:723.9px;top:735.90px;width:56px">1290.00</div>
<div class="d" style="left:782.3px;top:735.90px;width:58px">1252.00</div>
<div class="d" style="left:840.6px;top:735.90px;width:64px">1350.00</div>
<div class="d" style="left:14px;top:755.68px;width:51px">46</div>
<div class="d" style="left:131.2px;top:755.68px;width:57px">780.00</div>
<div class="d" style="left:190.7px;top:755.68px;width:56px">761.00</div>
<div class="d" style="left:249.9px;top:755.68px;width:55px">858.00</div>
<div class="d" style="left:305.1px;top:755.68px;width:58px">1100.00</div>
<div class="d" style="left:366.1px;top:755.68px;width:57px">1180.00</div>
<div class="d" style="left:425.5px;top:755.68px;width:57px">1170.00</div>
<div class="d" style="left:483.8px;top:755.68px;width:58px">1260.00</div>
<div class="d" style="left:543.9px;top:755.68px;width:57px">1240.00</div>
<div class="d" style="left:603.55px;top:755.68px;width:57px">1330.00</div>
<div class="d" style="left:663px;top:755.68px;width:58px">1310.00</div>
<div class="d" style="left:723.9px;top:755.68px;width:56px">1410.00</div>
<div class="d" style="left:782.3px;top:755.68px;width:58px">1368.00</div>
<div class="d" style="left:840.6px;top:755.68px;width:64px">1476.00</div>
<div class="d" style="left:14px;top:775.46px;width:51px">48</div>
<div class="d" style="left:131.2px;top:775.46px;width:57px">849.00</div>
<div class="d" style="left:190.7px;top:775.46px;width:56px">829.00</div>
<div class="d" style="left:249.9px;top:775.46px;width:55px">934.00</div>
<div class="d" style="left:305.1px;top:775.46px;width:58px">1190.00</div>
<div class="d" style="left:366.1px;top:775.46px;width:57px">1290.00</div>
<div class="d" style="left:425.5px;top:775.46px;width:57px">1270.00</div>
<div class="d" style="left:483.8px;top:775.46px;width:58px">1370.00</div>
<div class="d" style="left:543.9px;top:775.46px;width:57px">1350.00</div>
<div class="d" style="left:603.55px;top:775.46px;width:57px">1450.00</div>
<div class="d" style="left:663px;top:775.46px;width:58px">1420.00</div>
<div class="d" style="left:723.9px;top:775.46px;width:56px">1530.00</div>
<div class="d" style="left:782.3px;top:775.46px;width:58px">1490.00</div>
<div class="d" style="left:840.6px;top:775.46px;width:64px">1607.00</div>
<div class="d" style="left:14px;top:795.24px;width:51px">50</div>
<div class="d" style="left:131.2px;top:795.24px;width:57px">922.00</div>
<div class="d" style="left:190.7px;top:795.24px;width:56px">900.00</div>
<div class="d" style="left:249.9px;top:795.24px;width:55px">1010.00</div>
<div class="d" style="left:305.1px;top:795.24px;width:58px">1300.00</div>
<div class="d" style="left:366.1px;top:795.24px;width:57px">1400.00</div>
<div class="d" style="left:425.5px;top:795.24px;width:57px">1380.00</div>
<div class="d" style="left:483.8px;top:795.24px;width:58px">1490.00</div>
<div class="d" style="left:543.9px;top:795.24px;width:57px">1460.00</div>
<div class="d" style="left:603.55px;top:795.24px;width:57px">1580.00</div>
<div class="d" style="left:663px;top:795.24px;width:58px">1540.00</div>
<div class="d" style="left:723.9px;top:795.24px;width:56px">1660.00</div>
<div class="d" style="left:782.3px;top:795.24px;width:58px">1617.00</div>
<div class="d" style="left:840.6px;top:795.24px;width:64px">1744.00</div>
<div class="t" style="left:26px;top:834.7px;font-size:14px;line-height:18px;letter-spacing:0.38px"><span class="k" style="-webkit-text-stroke:0.1px currentColor">主要用途：各种起重、提升和牵引设备、港口装卸、高炉卷扬、石油钻井、金属芯绳适用于冲击负荷，受热和受挤压条件下。</span></div>
<div class="t" style="left:25px;top:859.5px;font-size:12px;line-height:14.4px;letter-spacing:0.44px">Main Applications: Various equipment for hoisting, derricking, lifting, towing, portload and unload, blast furnace hoisting<br>and oil well drilling. The rope with wire core can be used under the shock load, heated and squeezed conditions.</div>
</body></html>
